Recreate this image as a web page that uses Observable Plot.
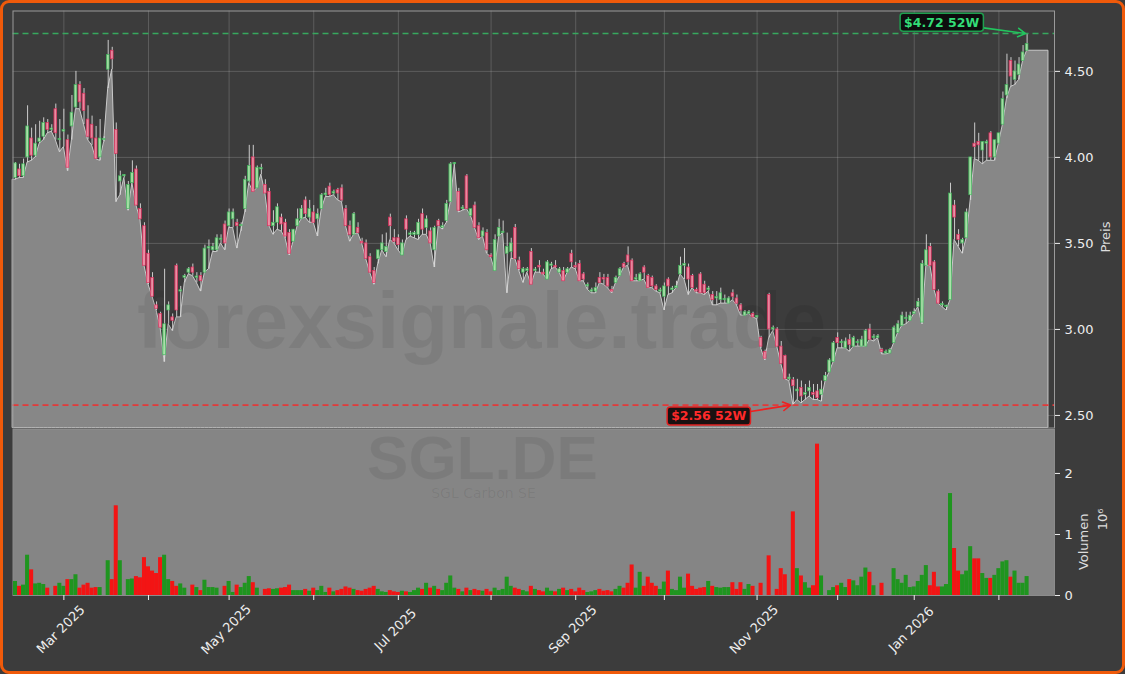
<!DOCTYPE html>
<html><head><meta charset="utf-8">
<script src="https://cdn.jsdelivr.net/npm/d3@7"></script>
<script src="https://cdn.jsdelivr.net/npm/@observablehq/plot@0.6"></script>
<style>
html,body{margin:0;padding:0;background:#3c3c3c;}
#wrap{position:relative;width:1125px;height:674px;overflow:hidden;background:#3c3c3c;font-family:"DejaVu Sans",sans-serif;}
#wrap svg{position:absolute;left:0;}
#border{position:absolute;left:0;top:0;width:1125px;height:674px;box-sizing:border-box;border:3px solid #f05a0a;border-radius:9px;pointer-events:none;}
</style></head>
<body><div id="wrap"><div id="border"></div></div>
<script>
// ---- data (SGL.DE, daily, 13 Feb 2025 .. 11 Feb 2026) ----
const startDate = "2025-02-13";
const holidays = ["2025-04-18","2025-04-21","2025-05-01","2025-12-24","2025-12-25","2025-12-26","2025-12-31","2026-01-01"];
const opens = [
3.88,3.93,3.89,4.00,4.11,4.01,4.09,4.12,4.20,4.16,
4.28,4.10,4.15,4.10,4.18,4.29,4.42,4.37,4.22,4.19,
4.11,4.00,4.10,4.51,4.62,4.16,3.86,3.89,3.70,3.85,
3.93,3.70,3.60,3.44,3.30,3.14,3.09,2.85,3.11,3.07,
3.37,3.22,3.30,3.33,3.36,3.30,3.31,3.33,3.47,3.46,
3.46,3.52,3.61,3.60,3.64,3.62,3.60,3.70,3.86,4.00,
3.82,3.93,3.84,3.80,3.60,3.62,3.65,3.62,3.56,3.51,
3.60,3.64,3.75,3.65,3.68,3.64,3.70,3.78,3.83,3.79,
3.81,3.82,3.70,3.60,3.55,3.59,3.51,3.50,3.42,3.34,
3.41,3.46,3.45,3.65,3.53,3.53,3.43,3.64,3.55,3.55,
3.55,3.67,3.59,3.57,3.46,3.63,3.59,3.63,3.74,3.96,
3.80,3.70,3.89,3.66,3.72,3.60,3.54,3.56,3.43,3.34,
3.54,3.56,3.44,3.45,3.59,3.40,3.33,3.34,3.45,3.34,
3.37,3.33,3.29,3.37,3.37,3.33,3.34,3.33,3.44,3.37,
3.38,3.32,3.25,3.22,3.22,3.30,3.30,3.30,3.23,3.27,
3.31,3.38,3.43,3.40,3.29,3.28,3.36,3.31,3.30,3.25,
3.22,3.19,3.29,3.23,3.24,3.32,3.37,3.36,3.31,3.23,
3.32,3.26,3.23,3.20,3.18,3.17,3.17,3.15,3.21,3.18,
3.14,3.08,3.09,3.09,3.07,2.95,2.87,3.20,3.00,3.00,
2.90,2.845,2.71,2.705,2.64,2.66,2.62,2.64,2.63,2.64,
2.62,2.70,2.75,2.81,2.95,2.92,2.89,2.94,2.90,2.92,
2.90,2.90,3.00,2.95,2.95,2.88,2.86,2.86,2.92,2.98,
3.02,3.06,3.05,3.09,3.13,3.04,3.37,3.48,3.39,3.22,
3.14,3.13,3.17,3.72,3.55,3.50,3.53,3.78,4.08,4.09,
4.04,4.08,4.14,4.00,4.08,4.19,4.36,4.56,4.45,4.48,
4.56,4.62];
const highs = [
3.97,3.96,3.99,4.30,4.17,4.19,4.21,4.23,4.22,4.19,
4.31,4.22,4.28,4.13,4.36,4.50,4.44,4.40,4.30,4.24,
4.18,4.22,4.12,4.68,4.64,4.20,3.92,3.90,3.86,3.98,
3.95,3.73,3.62,3.46,3.33,3.16,3.10,3.35,3.16,3.09,
3.38,3.25,3.32,3.36,3.38,3.33,3.33,3.49,3.52,3.50,
3.55,3.55,3.63,3.70,3.70,3.64,3.62,3.89,4.07,4.07,
3.95,3.96,3.87,3.82,3.69,3.73,3.67,3.64,3.58,3.58,
3.70,3.72,3.77,3.75,3.72,3.70,3.79,3.82,3.85,3.81,
3.82,3.84,3.72,3.63,3.68,3.62,3.53,3.52,3.44,3.36,
3.46,3.55,3.56,3.67,3.58,3.55,3.52,3.66,3.57,3.57,
3.64,3.70,3.66,3.59,3.60,3.64,3.62,3.75,3.97,3.97,
3.82,3.72,3.90,3.70,3.74,3.62,3.59,3.58,3.44,3.55,
3.64,3.63,3.56,3.53,3.61,3.42,3.36,3.36,3.47,3.36,
3.40,3.35,3.40,3.39,3.40,3.36,3.36,3.36,3.46,3.39,
3.40,3.33,3.27,3.24,3.27,3.33,3.32,3.32,3.25,3.31,
3.36,3.39,3.48,3.41,3.32,3.33,3.37,3.32,3.31,3.26,
3.24,3.27,3.30,3.25,3.28,3.42,3.47,3.38,3.32,3.24,
3.33,3.28,3.25,3.22,3.22,3.24,3.20,3.19,3.23,3.20,
3.15,3.11,3.11,3.10,3.08,2.96,2.88,3.21,3.02,3.01,
2.93,2.85,2.74,2.72,2.71,2.70,2.68,2.70,2.68,2.68,
2.70,2.75,2.83,2.93,2.98,2.94,2.95,2.97,2.96,2.94,
2.96,3.00,3.03,2.97,2.97,2.89,2.88,2.89,3.02,3.05,
3.10,3.10,3.10,3.12,3.18,3.40,3.55,3.50,3.40,3.23,
3.16,3.14,3.85,3.75,3.58,3.53,3.70,4.00,4.20,4.14,
4.09,4.10,4.15,4.10,4.14,4.38,4.60,4.58,4.56,4.58,
4.65,4.72];
const lows = [
3.87,3.88,3.88,3.97,3.98,4.00,4.08,4.10,4.14,4.15,
4.10,4.03,4.06,3.92,4.10,4.28,4.28,4.19,4.10,4.07,
3.99,3.98,4.09,4.40,4.51,3.74,3.78,3.88,3.69,3.85,
3.72,3.64,3.37,3.26,3.19,3.11,3.01,2.81,3.03,2.99,
3.07,3.07,3.27,3.32,3.31,3.27,3.22,3.33,3.35,3.45,
3.45,3.50,3.46,3.59,3.59,3.47,3.57,3.68,3.85,3.80,
3.82,3.90,3.79,3.60,3.55,3.58,3.57,3.53,3.43,3.51,
3.60,3.64,3.65,3.62,3.62,3.54,3.70,3.77,3.77,3.78,
3.75,3.74,3.60,3.51,3.55,3.56,3.50,3.41,3.33,3.26,
3.38,3.46,3.42,3.52,3.50,3.46,3.43,3.52,3.54,3.53,
3.52,3.55,3.55,3.50,3.36,3.60,3.58,3.62,3.74,3.96,
3.68,3.69,3.70,3.66,3.59,3.52,3.54,3.44,3.42,3.34,
3.54,3.56,3.21,3.41,3.41,3.34,3.27,3.33,3.26,3.33,
3.33,3.32,3.29,3.35,3.36,3.33,3.28,3.33,3.36,3.35,
3.28,3.28,3.23,3.21,3.21,3.27,3.26,3.24,3.21,3.27,
3.31,3.36,3.37,3.28,3.28,3.28,3.29,3.24,3.24,3.22,
3.21,3.11,3.20,3.21,3.24,3.32,3.29,3.20,3.24,3.21,
3.21,3.20,3.22,3.14,3.14,3.15,3.15,3.15,3.17,3.14,
3.08,3.08,3.09,3.07,3.06,2.89,2.82,2.95,2.99,2.90,
2.80,2.71,2.70,2.56,2.59,2.57,2.59,2.61,2.59,2.59,
2.58,2.70,2.75,2.81,2.89,2.89,2.89,2.87,2.90,2.90,
2.90,2.90,2.94,2.93,2.95,2.855,2.855,2.86,2.92,2.98,
3.02,3.03,3.05,3.09,3.13,3.03,3.37,3.37,3.23,3.15,
3.13,3.11,3.17,3.52,3.48,3.44,3.53,3.75,3.99,3.98,
3.96,3.98,3.98,3.98,4.08,4.19,4.34,4.41,4.42,4.45,
4.56,4.62];
const closes = [
3.965,3.89,3.96,4.18,4.01,4.08,4.11,4.20,4.16,4.16,
4.14,4.10,4.16,3.94,4.26,4.42,4.32,4.27,4.12,4.11,
3.99,4.11,4.10,4.595,4.57,4.02,3.89,3.89,3.84,3.91,
3.72,3.64,3.37,3.27,3.19,3.12,3.01,3.03,3.14,3.05,
3.11,3.22,3.31,3.35,3.33,3.30,3.28,3.47,3.48,3.48,
3.53,3.52,3.50,3.68,3.68,3.60,3.60,3.87,3.95,3.80,
3.94,3.93,3.79,3.60,3.62,3.71,3.61,3.54,3.44,3.58,
3.64,3.70,3.67,3.70,3.62,3.67,3.78,3.79,3.78,3.80,
3.79,3.75,3.60,3.55,3.67,3.56,3.50,3.41,3.33,3.27,
3.46,3.50,3.48,3.60,3.51,3.49,3.50,3.58,3.55,3.56,
3.62,3.58,3.64,3.50,3.59,3.60,3.60,3.73,3.96,3.96,
3.69,3.70,3.70,3.70,3.59,3.53,3.57,3.46,3.42,3.52,
3.59,3.56,3.48,3.50,3.41,3.35,3.35,3.35,3.26,3.34,
3.36,3.32,3.39,3.37,3.36,3.35,3.28,3.35,3.39,3.36,
3.28,3.29,3.25,3.22,3.24,3.27,3.29,3.25,3.22,3.30,
3.35,3.36,3.39,3.28,3.29,3.32,3.33,3.24,3.25,3.23,
3.22,3.25,3.25,3.23,3.25,3.37,3.38,3.29,3.24,3.22,
3.21,3.21,3.23,3.17,3.18,3.21,3.17,3.18,3.19,3.15,
3.11,3.10,3.10,3.07,3.07,2.90,2.83,3.00,3.00,2.90,
2.80,2.71,2.72,2.67,2.65,2.61,2.63,2.66,2.62,2.60,
2.65,2.73,2.82,2.92,2.92,2.92,2.93,2.91,2.95,2.92,
2.94,2.99,2.94,2.95,2.96,2.87,2.87,2.88,3.01,3.03,
3.08,3.06,3.08,3.10,3.16,3.38,3.46,3.37,3.23,3.15,
3.14,3.13,3.79,3.65,3.52,3.52,3.68,4.00,4.06,4.07,
4.09,4.09,4.00,4.10,4.14,4.34,4.42,4.47,4.50,4.54,
4.61,4.66];
// volume in millions of shares
const volumes = [
0.23,0.15,0.17,0.66,0.42,0.19,0.20,0.18,0.12,0,
0.15,0.20,0.15,0.26,0.26,0.34,0.12,0.17,0.20,0.12,
0.13,0.13,0,0.57,0.26,1.47,0.57,0,0.26,0.27,
0.31,0.29,0.62,0.47,0.40,0.36,0.62,0.66,0.26,0.23,
0.15,0.19,0.12,0,0.17,0.13,0.08,0.25,0.13,0.13,
0.12,0,0.15,0.23,0.05,0.17,0.13,0.20,0.31,0.21,
0.12,0,0.10,0.11,0.10,0.11,0.12,0.13,0.17,0.08,
0.08,0.08,0.10,0.07,0.12,0.08,0.15,0.05,0.12,0.06,
0.08,0.10,0.14,0.12,0.10,0.08,0.07,0.10,0.12,0.15,
0.10,0.06,0.05,0.08,0.06,0.05,0.07,0.06,0.05,0.08,
0.12,0.10,0.20,0.12,0.15,0.10,0.08,0.20,0.32,0.12,
0.10,0.06,0.12,0.08,0.10,0.08,0.07,0.10,0.06,0.12,
0.08,0.10,0.30,0.15,0.12,0.10,0.08,0.06,0.15,0.10,
0.08,0.06,0.12,0.07,0.06,0.10,0.12,0.08,0.10,0.06,
0.12,0.08,0.05,0.06,0.08,0.10,0.07,0.08,0.06,0.10,
0.15,0.12,0.20,0.50,0.12,0.38,0.15,0.30,0.20,0.15,
0.10,0.22,0.40,0.10,0.08,0.30,0.12,0.35,0.15,0.10,
0.12,0.13,0.23,0.15,0.13,0.12,0.13,0.13,0.21,0.10,
0.21,0.10,0.18,0.15,0,0.20,0,0.65,0,0.10,
0.44,0.34,0,1.37,0.44,0.32,0.21,0.12,0.16,2.48,
0.32,0,0.08,0.13,0.16,0.20,0.13,0.26,0.24,0.16,
0.30,0.45,0.38,0.16,0,0.20,0,0,0.44,0.26,
0.20,0.33,0.13,0.14,0.23,0.33,0.49,0.16,0.38,0.14,
0.14,0.18,1.67,0.77,0.40,0.34,0.40,0.80,0.60,0.60,
0.36,0.28,0.28,0.33,0.44,0.55,0.57,0.30,0.40,0.20,
0.20,0.31];
const priceTicks = [2.5, 3.0, 3.5, 4.0, 4.5];
const volumeTicks = [0, 1, 2];
const labelMonths = ["Mar 2025","May 2025","Jul 2025","Sep 2025","Nov 2025","Jan 2026"];
const ticker = "SGL.DE", company = "SGL Carbon SE", site = "forexsignale.trade";

// ---- trading calendar (x is the bar index) ----
const n = closes.length;
const dates = [];
for (let d = new Date(startDate + "T00:00:00Z"); dates.length < n; d = new Date(d.getTime() + 864e5)) {
  const wd = d.getUTCDay(), iso = d.toISOString().slice(0, 10);
  if (wd !== 0 && wd !== 6 && !holidays.includes(iso)) dates.push(d);
}
const fmt = d3.utcFormat("%b %Y");
const monthTicks = [];
dates.forEach((d, i) => { if (i > 0 && d.getUTCMonth() !== dates[i - 1].getUTCMonth()) monthTicks.push({i, label: fmt(d)}); });
const labelTicks = monthTicks.filter(t => labelMonths.includes(t.label));

const bars = closes.map((c, i) => ({i, o: opens[i], h: highs[i], l: lows[i], c, v: volumes[i], up: c >= opens[i]}));
const xDomain = [-0.62, n + 5.8];
const yDomain = [2.427, 4.851];
const areaData = [{i: xDomain[0], l: lows[0]}, ...bars, {i: n - 1 + 5.3, l: lows[n - 1]}];

const hi = d3.max(highs), lo = d3.min(lows);
const iHi = highs.indexOf(hi), iLo = lows.indexOf(lo);
const GREEN = "#37a85e", RED = "#e23a3a";

const common = {width: 1125, marginLeft: 12.5, marginRight: 71,
  style: {background: "transparent", color: "#eeeeee", fontFamily: "DejaVu Sans, sans-serif", fontSize: "13px", overflow: "visible"}};

const price = Plot.plot({
  ...common, height: 440, marginTop: 10.5, marginBottom: 12.5,
  x: {domain: xDomain, axis: null},
  y: {domain: yDomain, axis: null},
  marks: [
    Plot.ruleX(monthTicks, {x: "i", stroke: "#ffffff", strokeOpacity: 0.17}),
    Plot.ruleY(priceTicks, {stroke: "#ffffff", strokeOpacity: 0.17}),
    Plot.areaY(areaData, {x: "i", y1: yDomain[0], y2: "l", fill: "#878787", stroke: "#c9c9c9", strokeWidth: 1}),
    Plot.text([site], {frameAnchor: "top-left", lineAnchor: "middle", dx: 468.5, dy: 311, text: d => d, fontFamily: "Liberation Sans, Arial, sans-serif",
      fontWeight: "bold", fontSize: 80, fill: "#000", fillOpacity: 0.07, textAnchor: "middle"}),
    Plot.ruleX(bars, {x: "i", y1: "l", y2: "h", stroke: "#dcdcdc", strokeWidth: 0.9}),
    Plot.rect(bars, {x1: d => d.i - 0.34, x2: d => d.i + 0.34,
      y1: d => Math.min(d.o, d.c), y2: d => Math.max(Math.max(d.o, d.c), Math.min(d.o, d.c) + 0.008),
      fill: d => d.up ? "#a6e6a6" : "#f28aa2", stroke: d => d.up ? "#3cb95a" : "#e5285a", strokeWidth: 0.7, opacity: 0.9}),
    Plot.ruleY([hi], {stroke: GREEN, strokeDasharray: "6,4", strokeWidth: 1.6}),
    Plot.ruleY([lo], {stroke: RED, strokeDasharray: "6,4", strokeWidth: 1.6}),
    Plot.arrow([{x1: iHi - 10.8, y1: hi + 0.033, x2: iHi - 0.4, y2: hi}], {x1: "x1", y1: "y1", x2: "x2", y2: "y2", stroke: "#22c55e", strokeWidth: 1.6, headLength: 8}),
    Plot.arrow([{x1: iLo - 10.6, y1: lo - 0.037, x2: iLo - 0.7, y2: lo}], {x1: "x1", y1: "y1", x2: "x2", y2: "y2", stroke: "#f02020", strokeWidth: 1.6, headLength: 8}),
    Plot.text([{x: iHi - 21.2, y: hi + 0.062, t: `$${hi.toFixed(2)} 52W`}], {x: "x", y: "y", text: "t", fill: "#33dd77", fontWeight: "bold", fontSize: 12.5, className: "box-green"}),
    Plot.text([{x: iLo - 21, y: lo - 0.066, t: `$${lo.toFixed(2)} 52W`}], {x: "x", y: "y", text: "t", fill: "#ff2a2a", fontWeight: "bold", fontSize: 12.5, className: "box-red"}),
    Plot.axisY(priceTicks, {anchor: "right", tickSize: 5, tickPadding: 5, tickFormat: d3.format(".2f"), stroke: "#eeeeee", fill: "#eeeeee", fontSize: 13, label: null}),
    Plot.text(["Preis"], {frameAnchor: "right", dx: 51, dy: 2, rotate: -90, text: d => d, fill: "#dddddd", fontSize: 13}),
    Plot.frame({stroke: "#9a9a9a", strokeWidth: 1})
  ]
});

const volume = Plot.plot({
  ...common, height: 254, marginTop: 9, marginBottom: 79,
  x: {domain: xDomain, axis: null},
  y: {domain: [0, 2.72], axis: null},
  marks: [
    Plot.frame({fill: "#858585", stroke: "#8c8c8c"}),
    Plot.text([ticker], {frameAnchor: "top-left", lineAnchor: "middle", dx: 469.5, dy: 30, text: d => d, fontFamily: "Liberation Sans, Arial, sans-serif",
      fontWeight: "bold", fontSize: 62, fill: "#000", fillOpacity: 0.07, textAnchor: "middle"}),
    Plot.text([company], {frameAnchor: "top-left", lineAnchor: "middle", dx: 470.5, dy: 64, text: d => d, fontFamily: "DejaVu Sans, sans-serif",
      fontSize: 14, fill: "#000", fillOpacity: 0.07, textAnchor: "middle"}),
    Plot.rectY(bars, {x1: d => d.i - 0.5, x2: d => d.i + 0.5, y: "v", fill: d => d.up ? "#1f951f" : "#f31414"}),
    Plot.axisY(volumeTicks, {anchor: "right", tickSize: 5, tickPadding: 5, tickFormat: d => String(d), stroke: "#eeeeee", fill: "#eeeeee", fontSize: 13, label: null}),
    Plot.axisX(monthTicks.map(d => d.i), {anchor: "bottom", tickSize: 5, tickFormat: () => "", stroke: "#eeeeee", label: null}),
    Plot.text(labelTicks, {x: "i", text: "label", frameAnchor: "bottom", dy: 37, rotate: -45, textAnchor: "middle", fill: "#eeeeee", fontSize: 13}),
    Plot.text(["Volumen"], {frameAnchor: "right", dx: 29, dy: 1, rotate: -90, text: d => d, fill: "#dddddd", fontSize: 13}),
    Plot.text(["10⁶"], {frameAnchor: "right", dx: 48, dy: -4, rotate: -90, text: d => d, fill: "#dddddd", fontSize: 13})
  ]
});

const wrap = document.getElementById("wrap");
price.style.top = "0px";
volume.style.top = "420px";
wrap.insertBefore(price, wrap.firstChild);
wrap.insertBefore(volume, document.getElementById("border"));

// boxes behind the 52-week labels
[["g.box-green", "#0d0d0d", "#1f9e4f"], ["g.box-red", "#1a1111", "#e02020"]].forEach(([sel, bg, edge]) => {
  price.querySelectorAll(sel + " text").forEach(t => {
    const b = t.getBBox();
    const r = document.createElementNS("http://www.w3.org/2000/svg", "rect");
    r.setAttribute("x", b.x - 4); r.setAttribute("y", b.y - 1.5);
    r.setAttribute("width", b.width + 8); r.setAttribute("height", b.height + 3);
    r.setAttribute("rx", 3); r.setAttribute("fill", bg); r.setAttribute("stroke", edge); r.setAttribute("stroke-width", 1.5);
    if (t.getAttribute("transform")) r.setAttribute("transform", t.getAttribute("transform"));
    t.parentNode.insertBefore(r, t);
  });
});
</script>
</body></html>
